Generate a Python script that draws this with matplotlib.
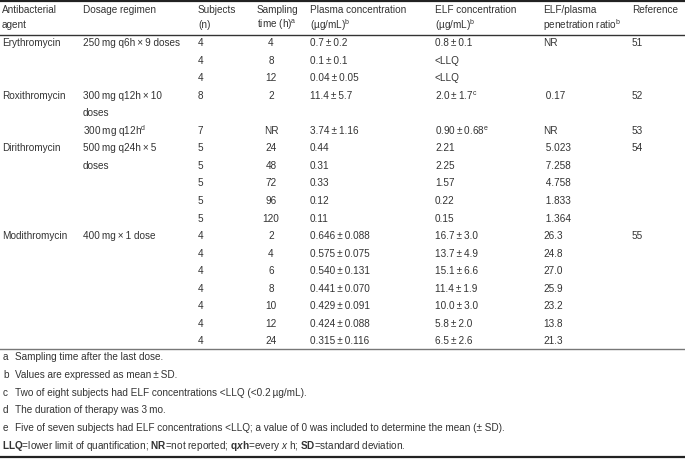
import matplotlib
matplotlib.use("Agg")
import matplotlib.pyplot as plt

plt.rcParams['font.family'] = ['Liberation Sans', 'DejaVu Sans']
plt.rcParams['mathtext.fontset'] = 'custom'
plt.rcParams['mathtext.rm'] = 'Liberation Sans'
plt.rcParams['mathtext.it'] = 'Liberation Sans:italic'
plt.rcParams['mathtext.bf'] = 'Liberation Sans:bold'
plt.rcParams['mathtext.bfit'] = 'Liberation Sans:italic:bold'

TS = "\u2009"
PM = TS + "±" + TS

header_line1 = ["Antibacterial", "Dosage regimen", "Subjects", "Sampling",
                "Plasma concentration", "ELF concentration", "ELF/plasma", "Reference"]
header_line2 = ["agent", "", "(n)", r"time (h)$^{\mathrm{a}}$",
                r"(µg/mL)$^{\mathrm{b}}$", r"(µg/mL)$^{\mathrm{b}}$",
                r"penetration ratio$^{\mathrm{b}}$", ""]

agents = ["Erythromycin", "", "", "Roxithromycin", "", "", "Dirithromycin", "", "", "", "",
          "Modithromycin", "", "", "", "", "", ""]
regimens = ["250" + TS + "mg q6h" + TS + "×" + TS + "9 doses", "", "",
            "300" + TS + "mg q12h" + TS + "×" + TS + "10", "doses",
            "300" + TS + r"mg q12h$^{\mathrm{d}}$",
            "500" + TS + "mg q24h" + TS + "×" + TS + "5", "doses", "", "", "",
            "400" + TS + "mg" + TS + "×" + TS + "1 dose", "", "", "", "", "", ""]
subjects = ["4", "4", "4", "8", "", "7", "5", "5", "5", "5", "5",
            "4", "4", "4", "4", "4", "4", "4"]
sampling_time = ["4", "8", "12", "2", "", "NR", "24", "48", "72", "96", "120",
                 "2", "4", "6", "8", "10", "12", "24"]
plasma_conc = ["0.7±0.2", "0.1±0.1", "0.04±0.05", "11.4±5.7", "", "3.74±1.16",
               "0.44", "0.31", "0.33", "0.12", "0.11",
               "0.646±0.088", "0.575±0.075", "0.540±0.131", "0.441±0.070",
               "0.429±0.091", "0.424±0.088", "0.315±0.116"]
elf_conc = ["0.8±0.1", "<LLQ", "<LLQ", r"2.0±1.7$^{\mathrm{c}}$", "", r"0.90±0.68$^{\mathrm{e}}$",
            "2.21", "2.25", "1.57", "0.22", "0.15",
            "16.7±3.0", "13.7±4.9", "15.1±6.6", "11.4±1.9", "10.0±3.0", "5.8±2.0", "6.5±2.6"]
ratio = ["NR", "", "", " 0.17", "", "NR", " 5.023", " 7.258", " 4.758", " 1.833", " 1.364",
         "26.3", "24.8", "27.0", "25.9", "23.2", "13.8", "21.3"]
references = ["51", "", "", "52", "", "53", "54", "", "", "", "",
              "55", "", "", "", "", "", ""]

footnote_keys = ["a", "b", "c", "d", "e"]
footnotes = ["Sampling time after the last dose.",
             "Values are expressed as mean" + PM + "SD.",
             "Two of eight subjects had ELF concentrations <LLQ (<0.2" + TS + "µg/mL).",
             "The duration of therapy was 3" + TS + "mo.",
             "Five of seven subjects had ELF concentrations <LLQ; a value of 0 was included to determine the mean (± SD)."]
abbreviations = (r"$\mathbf{LLQ}$=lower limit of quantification; $\mathbf{NR}$=not reported; "
                 r"$\mathbf{q}\mathbfit{x}\mathbf{h}$=every $\mathit{x}$ h; $\mathbf{SD}$=standard deviation.")

col_x = [2, 83, 198, 257, 310, 435, 543, 632]
color = "#333333"
fs = 7.2

fig = plt.figure(figsize=(6.85, 4.59), dpi=100)
ax = fig.add_axes([0, 0, 1, 1])
ax.set_xlim(0, 685)
ax.set_ylim(459, 0)
ax.axis("off")

# header
for x, t1, t2 in zip(col_x, header_line1, header_line2):
    ax.text(x, 10, t1, fontsize=fs, color=color, va="center")
    ax.text(x, 25, t2, fontsize=fs, color=color, va="center")

# body rows
row_y0, pitch = 43, 17.55
columns = [agents, regimens, subjects, None, plasma_conc, elf_conc, ratio, references]
for i in range(len(agents)):
    y = row_y0 + i * pitch
    for j, col in enumerate(columns):
        if col is None:
            ax.text(271, y, sampling_time[i], fontsize=fs, color=color, va="center", ha="center")
        elif col[i]:
            ax.text(col_x[j], y, col[i].replace("±", PM), fontsize=fs, color=color, va="center")

# footnotes
fn_y0, fn_pitch = 357, 17.8
for k, (key, note) in enumerate(zip(footnote_keys, footnotes)):
    y = fn_y0 + k * fn_pitch
    ax.text(3, y, key, fontsize=fs, color=color, va="center")
    ax.text(15, y, note, fontsize=fs, color=color, va="center")
ax.text(2, fn_y0 + 5 * fn_pitch, abbreviations, fontsize=fs, color=color, va="center")

# rules
ax.plot([0, 685], [1, 1], color="#222222", lw=1.6)
ax.plot([0, 685], [34.5, 34.5], color="#333333", lw=1.0)
ax.plot([0, 685], [349, 349], color="#777777", lw=1.0)
ax.plot([0, 685], [457, 457], color="#222222", lw=1.6)

fig.savefig("out.png", dpi=100)
